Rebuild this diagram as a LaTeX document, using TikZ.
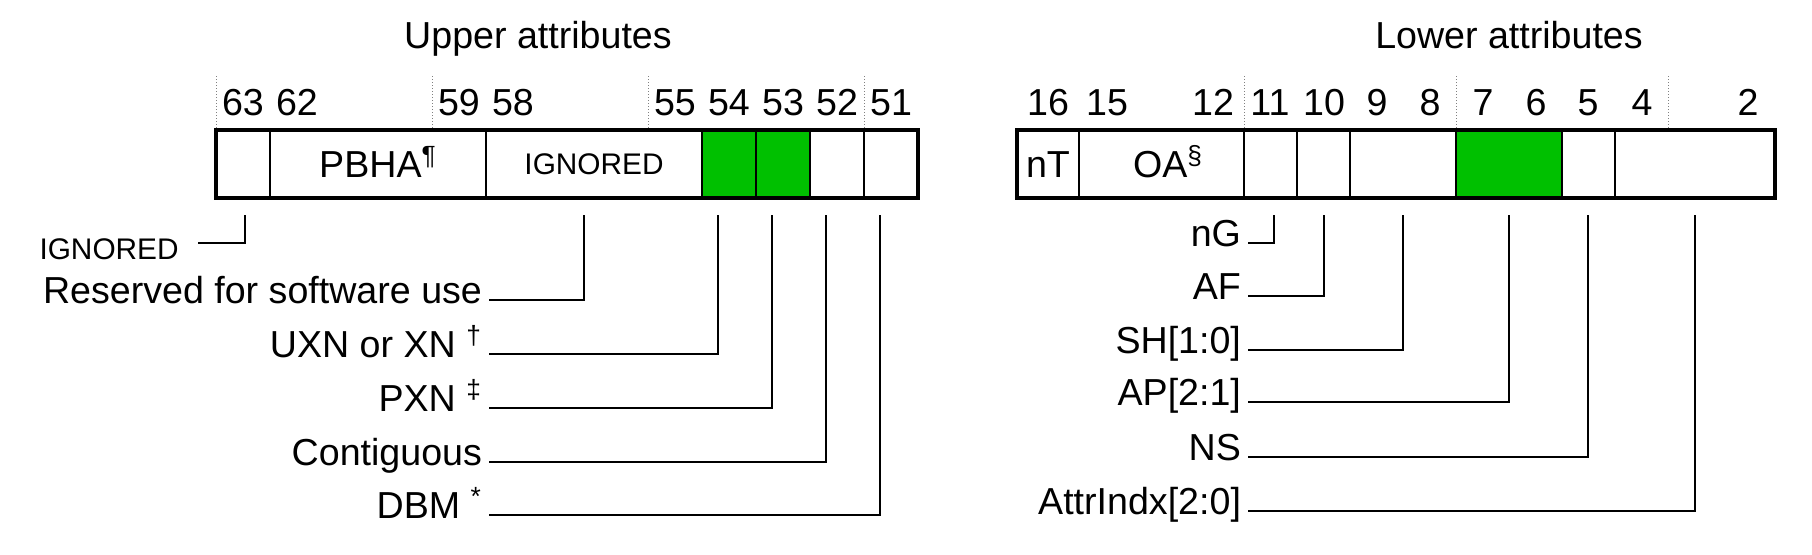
\documentclass[tikz,border=0pt]{standalone}
\usepackage{fontspec}
\setmainfont{Liberation Sans}
\usetikzlibrary{positioning}

\definecolor{attrgreen}{RGB}{0,192,0}

\begin{document}
\begin{tikzpicture}[x=0.5pt,y=-0.5pt,
    big/.style={font=\fontsize{18.8}{22}\selectfont},
    small/.style={font=\fontsize{14.9}{18}\selectfont},
    bitno/.style={big,anchor=base,inner sep=0pt},
    lbl/.style={big,anchor=east,text height=12pt,text depth=9pt},
    cell/.style={draw,line width=1.3pt},
    leader/.style={line width=1pt},
    tick/.style={gray,densely dotted,line width=0.5pt}]

\useasboundingbox (0,0) rectangle (1812,554);

\node[big,anchor=base] (uptitle) at (538,48) {Upper attributes};
\node[big,anchor=base] (lowtitle) at (1509,48) {Lower attributes};

% dotted ticks above the boxes
\foreach \x in {216,432,648,864,1244,1456,1668}
    \draw[tick] (\x,76) -- (\x,130);

% bit numbers
\foreach \x/\b in {243/63, 297/62, 459/59, 513/58, 675/55, 729/54, 783/53, 837/52, 891/51,
                   1048/16, 1107/15, 1213/12, 1270/11, 1324/10, 1377/9, 1430/8, 1483/7, 1536/6, 1588/5, 1642/4, 1748/2}
    \node[bitno] (b\b) at (\x,115) {\b};

% the two boxes
\fill[attrgreen] (702,130) rectangle (810,198);
\fill[attrgreen] (1456,130) rectangle (1562,198);
\foreach \a/\b in {216/270, 270/486, 486/702, 702/756, 756/810, 810/864, 864/918,
                   1017/1079, 1079/1244, 1244/1297, 1297/1350, 1350/1456, 1456/1562, 1562/1615, 1615/1775}
    \draw[cell] (\a,130) rectangle (\b,198);
\draw[line width=1.6pt] (216,130) rectangle (918,198);
\draw[line width=1.6pt] (1017,130) rectangle (1775,198);

\node[big,anchor=base] (pbha) at (378,177) {PBHA\textsuperscript{¶}};
\node[small,anchor=base] (ign) at (594,174) {IGNORED};
\node[big,anchor=base] (nt) at (1048,177) {nT};
\node[big,anchor=base] (oa) at (1168,177) {OA\textsuperscript{§}};

% upper leaders
\node[small,anchor=east,text height=16pt,text depth=0pt,inner xsep=9.5pt] (lign) at (198,243) {IGNORED};
\coordinate (tign) at (245,215);
\draw[leader] (tign) |- (lign);

\foreach \i/\x/\y/\txt in {rsw/584/300/{Reserved for software use},
                           uxn/718/354/{UXN or XN \textsuperscript{†}},
                           pxn/772/408/{PXN \textsuperscript{‡}},
                           cont/826/462/{Contiguous},
                           dbm/880/515/{DBM \textsuperscript{*}}} {
    \node[lbl] (l\i) at (489,\y) {\txt};
    \coordinate (t\i) at (\x,215);
    \draw[leader] (t\i) |- (l\i);
}

% lower leaders
\foreach \i/\x/\y/\txt in {ng/1274/243/{nG},
                           af/1324/296/{AF},
                           sh/1403/350/{SH[1:0]},
                           ap/1509/402/{AP[2:1]},
                           ns/1588/457/{NS},
                           attr/1695/511/{AttrIndx[2:0]}} {
    \node[lbl] (l\i) at (1248,\y) {\txt};
    \coordinate (t\i) at (\x,215);
    \draw[leader] (t\i) |- (l\i);
}

\end{tikzpicture}
\end{document}
